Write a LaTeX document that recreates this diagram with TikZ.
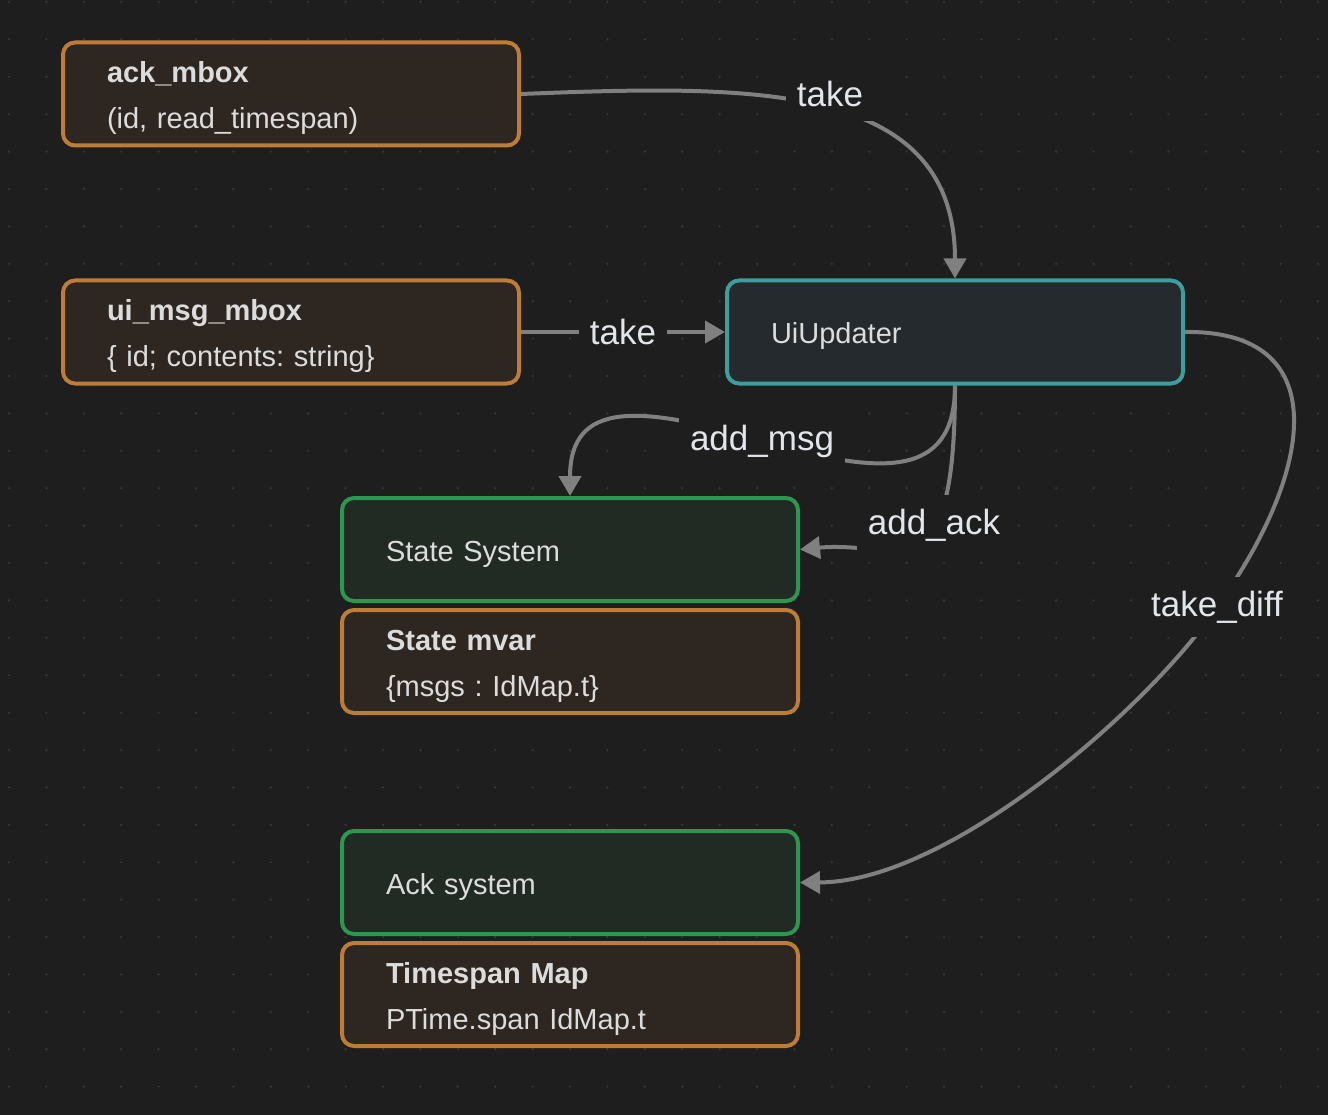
\documentclass[tikz,border=0pt]{standalone}
\usepackage{fontspec}
\setmainfont{Liberation Sans}
\usetikzlibrary{arrows.meta}
\definecolor{bgc}{HTML}{1E1E1E}
\definecolor{dotc}{HTML}{3A3A3A}
\definecolor{ob}{HTML}{BD7D39}
\definecolor{of}{HTML}{2E2621}
\definecolor{tb}{HTML}{3E9E9E}
\definecolor{tf}{HTML}{242A2D}
\definecolor{gb}{HTML}{2F9650}
\definecolor{gf}{HTML}{222A24}
\definecolor{txt}{HTML}{DCDCDC}
\definecolor{ltxt}{HTML}{E2E6EA}
\definecolor{ec}{HTML}{808080}
\pgfdeclarelayer{background}
\pgfdeclarelayer{edgelayer}
\pgfsetlayers{background,edgelayer,main}
\frenchspacing
\begin{document}
\frenchspacing
\begin{tikzpicture}[x=1pt,y=-1pt,
  box/.style={rounded corners=12pt, line width=4pt, inner xsep=44pt, inner ysep=0pt,
    text width=368pt, align=left, minimum height=103pt,
    font=\fontsize{29}{46}\selectfont\frenchspacing, text=txt,
    execute at begin node={\rule{0pt}{30pt}}},
  obox/.style={box, draw=ob, fill=of},
  tbox/.style={box, draw=tb, fill=tf},
  gbox/.style={box, draw=gb, fill=gf},
  edge/.style={draw=ec, line width=4pt, -{Triangle[length=20pt,width=22pt]}},
  lbl/.style={fill=bgc, text=ltxt, font=\fontsize{35}{40}\selectfont, inner xsep=11pt, inner ysep=14pt}]

\useasboundingbox (0,0) rectangle (1328,1115);
\begin{pgfonlayer}{background}
  \fill[bgc] (0,0) rectangle (1328,1115);
  \foreach \i in {0,...,35}{
    \foreach \j in {0,...,29}{
      \fill[dotc] ({9+37.4*\i},{2+37.4*\j}) circle (1.2pt);
    }
  }
\end{pgfonlayer}

% boxes
\node[obox] (ackmb) at (291,94) {\textbf{ack\_mbox}\\(id, read\_timespan)};
\node[obox] (uimb) at (291,332) {\textbf{ui\_msg\_mbox}\\\{ id; contents: string\}};
\node[tbox] (upd) at (955,332) {UiUpdater};
\node[gbox] (stsys) at (570,549.5) {State System};
\node[obox] (stmv) at (570,661.5) {\textbf{State mvar}\\\{msgs : IdMap.t\}};
\node[gbox] (acksys) at (570,882.5) {Ack system};
\node[obox] (tsmap) at (570,994.5) {\textbf{Timespan Map}\\PTime.span IdMap.t};

% edge labels
\node[lbl] (ltake1) at (830,94) {take};
\node[lbl] (ltake2) at (623,332) {take};
\node[lbl] (lmsg) at (762,441) {add\_msg};
\node[lbl] (lack) at (934,525) {add\_ack};
\node[lbl] (ldiff) at (1217,607) {take\_diff};

\begin{pgfonlayer}{edgelayer}
  \draw[edge] (ackmb.east) .. controls (750,85) and (955,80) .. (upd.north);
  \draw[edge] (uimb.east) -- (upd.west);
  \draw[edge] (upd.south) .. controls (955,480) and (880,475) .. (lmsg.center)
              .. controls (640,405) and (570,400) .. (stsys.north);
  \draw[edge] (upd.south) .. controls (955,600) and (900,540) .. (stsys.east);
  \draw[edge] (upd.east) .. controls (1335,330) and (1315,470) .. (ldiff.center)
              .. controls (1150,706) and (950,882) .. (acksys.east);
\end{pgfonlayer}
\end{tikzpicture}
\end{document}
